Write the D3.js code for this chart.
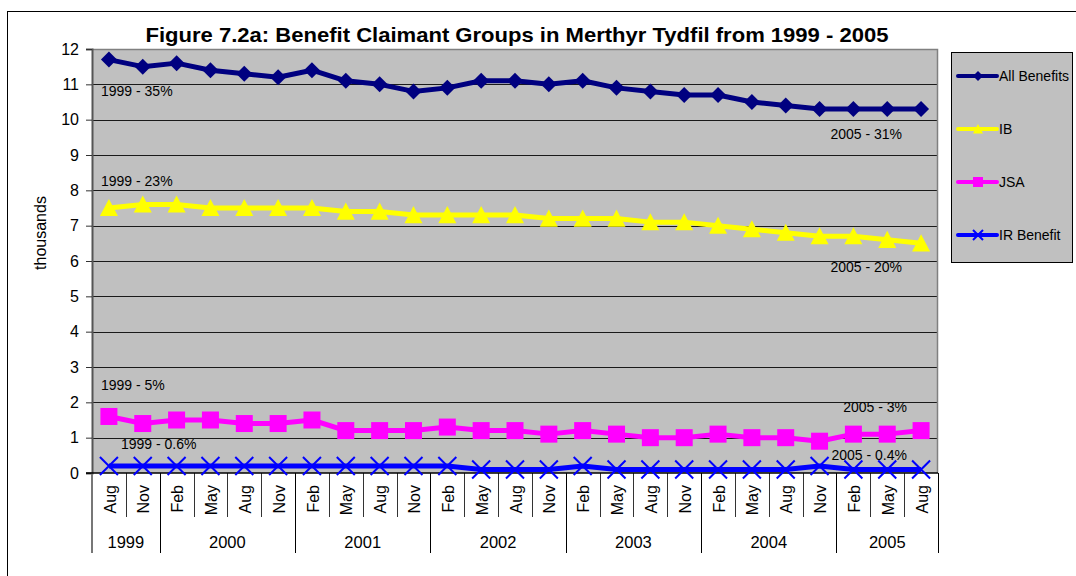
<!DOCTYPE html>
<html lang="en">
<head>
<meta charset="UTF-8">
<title>Benefit Claimant Groups in Merthyr Tydfil</title>
<script src="https://d3js.org/d3.v7.min.js"></script>
<style>
  body { margin: 0; background: #fff; font-family: "Liberation Sans", Arial, sans-serif; }
  svg { display: block; }
</style>
</head>
<body>
<script>
const months = ['Aug','Nov','Feb','May','Aug','Nov','Feb','May','Aug','Nov','Feb','May','Aug',
  'Nov','Feb','May','Aug','Nov','Feb','May','Aug','Nov','Feb','May','Aug'];
const years = ['1999','1999','2000','2000','2000','2000','2001','2001','2001','2001','2002','2002','2002',
  '2002','2003','2003','2003','2003','2004','2004','2004','2004','2005','2005','2005'];

const allBenefits = [11.7,11.5,11.6,11.4,11.3,11.2,11.4,11.1,11.0,10.8,10.9,11.1,11.1,
  11.0,11.1,10.9,10.8,10.7,10.7,10.5,10.4,10.3,10.3,10.3,10.3];
const ib = [7.5,7.6,7.6,7.5,7.5,7.5,7.5,7.4,7.4,7.3,7.3,7.3,7.3,
  7.2,7.2,7.2,7.1,7.1,7.0,6.9,6.8,6.7,6.7,6.6,6.5];
const jsa = [1.6,1.4,1.5,1.5,1.4,1.4,1.5,1.2,1.2,1.2,1.3,1.2,1.2,
  1.1,1.2,1.1,1.0,1.0,1.1,1.0,1.0,0.9,1.1,1.1,1.2];
const irBenefit = [0.2,0.2,0.2,0.2,0.2,0.2,0.2,0.2,0.2,0.2,0.2,0.1,0.1,
  0.1,0.2,0.1,0.1,0.1,0.1,0.1,0.1,0.2,0.1,0.1,0.1];

const yTicks = [0,1,2,3,4,5,6,7,8,9,10,11,12];

// share notes written on the chart: index of point, value level, text
const notes = [
  { i: 0, v: 10.68, text: '1999 - 35%', side: 'start', dx: 9 },
  { i: 0, v: 8.13, text: '1999 - 23%', side: 'start', dx: 9 },
  { i: 0, v: 2.35, text: '1999 - 5%', side: 'start', dx: 9 },
  { i: 0, v: 0.68, text: '1999 - 0.6%', side: 'start', dx: 29 },
  { i: 24, v: 9.46, text: '2005 - 31%', side: 'end', dx: -36 },
  { i: 24, v: 5.69, text: '2005 - 20%', side: 'end', dx: -36 },
  { i: 24, v: 1.73, text: '2005 - 3%', side: 'end', dx: -31 },
  { i: 24, v: 0.37, text: '2005 - 0.4%', side: 'end', dx: -31 }
];

const series = [
  { name: 'All Benefits', values: allBenefits, color: '#000080', marker: 'diamond' },
  { name: 'IB', values: ib, color: '#FFFF00', marker: 'triangle' },
  { name: 'JSA', values: jsa, color: '#FF00FF', marker: 'square' },
  { name: 'IR Benefit', values: irBenefit, color: '#0000FF', marker: 'cross' }
];

const W = 1076, H = 576;
const plot = { left: 92, right: 938, top: 49, bottom: 473 };

const svg = d3.select('body').append('svg')
  .attr('width', W).attr('height', H);

// outer chart frame (runs off the picture on the right and bottom)
svg.append('rect')
  .attr('x', 7.5).attr('y', 11.5)
  .attr('width', W + 20).attr('height', H + 20)
  .attr('fill', '#fff').attr('stroke', '#000').attr('stroke-width', 1);

const x = d3.scaleBand()
  .domain(d3.range(months.length))
  .range([plot.left, plot.right])
  .padding(0);
const bw = x.bandwidth();
const cx = i => x(i) + bw / 2;

const y = d3.scaleLinear()
  .domain([0, 12])
  .range([plot.bottom, plot.top]);

// plot area
svg.append('rect')
  .attr('x', plot.left).attr('y', plot.top)
  .attr('width', plot.right - plot.left).attr('height', plot.bottom - plot.top)
  .attr('fill', '#C0C0C0');

svg.append('g')
  .selectAll('line')
  .data(yTicks.filter(t => t > 0 && t < 12))
  .join('line')
  .attr('x1', plot.left).attr('x2', plot.right)
  .attr('y1', d => Math.round(y(d)) + 0.5).attr('y2', d => Math.round(y(d)) + 0.5)
  .attr('stroke', '#1a1a1a').attr('stroke-width', 1);

// top and right border of the plot
svg.append('path')
  .attr('d', `M${plot.left},${plot.top + 0.5}H${plot.right - 0.5}V${plot.bottom}`)
  .attr('fill', 'none').attr('stroke', '#808080').attr('stroke-width', 1.5);

// y axis
const yAxis = svg.append('g')
  .attr('transform', `translate(${plot.left},0)`)
  .call(d3.axisLeft(y).tickValues(yTicks).tickSize(6).tickPadding(7).tickFormat(d3.format('d')));
yAxis.select('.domain').attr('stroke', '#555').attr('stroke-width', 2);
yAxis.selectAll('.tick line').attr('stroke', '#333');
yAxis.selectAll('.tick text')
  .attr('font-size', 16).attr('fill', '#000')
  .attr('font-family', '"Liberation Sans", Arial, sans-serif');

svg.append('text')
  .attr('transform', `translate(46,233) rotate(-90)`)
  .attr('text-anchor', 'middle')
  .attr('font-size', 16)
  .text('thousands');

// category axis: month dividers, month labels, year groups
const catAxis = svg.append('g');
catAxis.selectAll('line.month')
  .data(d3.range(1, months.length))
  .join('line')
  .attr('class', 'month')
  .attr('x1', d => Math.round(x(d)) + 0.5).attr('x2', d => Math.round(x(d)) + 0.5)
  .attr('y1', plot.bottom).attr('y2', 517)
  .attr('stroke', '#333').attr('stroke-width', 1);

catAxis.selectAll('text.month')
  .data(months)
  .join('text')
  .attr('class', 'month')
  .attr('transform', (d, i) => `translate(${cx(i) + 1},485) rotate(-90)`)
  .attr('text-anchor', 'end')
  .attr('dy', '0.35em')
  .attr('font-size', 16)
  .text(d => d);

const yearGroups = d3.groups(d3.range(years.length), i => years[i]);
const yearEdges = [0].concat(yearGroups.map(g => g[1][g[1].length - 1] + 1));

catAxis.selectAll('line.year')
  .data(yearEdges)
  .join('line')
  .attr('class', 'year')
  .attr('x1', d => d === 0 ? plot.left : Math.round(x(d) ?? plot.right) + 0.5)
  .attr('x2', d => d === 0 ? plot.left : Math.round(x(d) ?? plot.right) + 0.5)
  .attr('y1', plot.bottom).attr('y2', 553)
  .attr('stroke', d => d === 0 ? '#777' : '#000')
  .attr('stroke-width', d => d === 0 ? 2 : 1);

catAxis.selectAll('text.year')
  .data(yearGroups)
  .join('text')
  .attr('class', 'year')
  .attr('x', g => (x(g[1][0]) + x(g[1][g[1].length - 1]) + bw) / 2)
  .attr('y', 548)
  .attr('text-anchor', 'middle')
  .attr('font-size', 16.5)
  .text(g => g[0]);

// x axis baseline
svg.append('line')
  .attr('x1', plot.left - 6).attr('x2', plot.right)
  .attr('y1', plot.bottom).attr('y2', plot.bottom)
  .attr('stroke', '#000').attr('stroke-width', 1.5);

// markers
function marker(sel, type, color, s) {
  if (type === 'diamond') {
    sel.append('path').attr('d', `M0,${-s}L${s},0L0,${s}L${-s},0Z`).attr('fill', color);
  } else if (type === 'triangle') {
    sel.append('path').attr('d', `M0,${-s}L${s},${s * 0.9}L${-s},${s * 0.9}Z`).attr('fill', color);
  } else if (type === 'square') {
    sel.append('rect').attr('x', -s).attr('y', -s).attr('width', 2 * s).attr('height', 2 * s).attr('fill', color);
  } else if (type === 'cross') {
    sel.append('path').attr('d', `M${-s},${-s}L${s},${s}M${-s},${s}L${s},${-s}`)
      .attr('stroke', color).attr('stroke-width', 2).attr('fill', 'none');
  }
}

const markerSize = { diamond: 8, triangle: 9, square: 8.5, cross: 9 };
const line = d3.line().x((d, i) => cx(i)).y(d => y(d));

series.forEach(s => {
  const g = svg.append('g');
  g.append('path')
    .datum(s.values)
    .attr('d', line)
    .attr('fill', 'none')
    .attr('stroke', s.color)
    .attr('stroke-width', 5)
    .attr('stroke-linejoin', 'round');
  s.values.forEach((v, i) => {
    const m = g.append('g').attr('transform', `translate(${cx(i)},${y(v)})`);
    marker(m, s.marker, s.color, markerSize[s.marker]);
  });
});

// notes
svg.append('g')
  .selectAll('text')
  .data(notes)
  .join('text')
  .attr('x', d => (d.side === 'start' ? x(d.i) : x(d.i) + bw) + d.dx)
  .attr('y', d => y(d.v))
  .attr('text-anchor', d => d.side)
  .attr('font-size', 14)
  .attr('fill', '#000')
  .text(d => d.text);

// title
svg.append('text')
  .attr('x', 517).attr('y', 42)
  .attr('text-anchor', 'middle')
  .attr('font-size', 21)
  .attr('font-weight', 'bold')
  .attr('textLength', 743)
  .attr('lengthAdjust', 'spacingAndGlyphs')
  .text('Figure 7.2a: Benefit Claimant Groups in Merthyr Tydfil from 1999 - 2005');

// legend
const legend = svg.append('g');
legend.append('rect')
  .attr('x', 951.5).attr('y', 52.5).attr('width', 121).attr('height', 210)
  .attr('fill', '#C0C0C0').attr('stroke', '#000').attr('stroke-width', 1);

const legendY = d3.scalePoint().domain(series.map(s => s.name)).range([76, 235]);
series.forEach(s => {
  const g = legend.append('g').attr('transform', `translate(0,${legendY(s.name)})`);
  g.append('line')
    .attr('x1', 958).attr('x2', 997)
    .attr('stroke', s.color).attr('stroke-width', 4).attr('stroke-linecap', 'round');
  const m = g.append('g').attr('transform', 'translate(978,0)');
  marker(m, s.marker, s.color, 5);
  g.append('text')
    .attr('x', 999).attr('dy', '0.35em')
    .attr('font-size', 14)
    .text(s.name);
});
</script>
</body>
</html>
